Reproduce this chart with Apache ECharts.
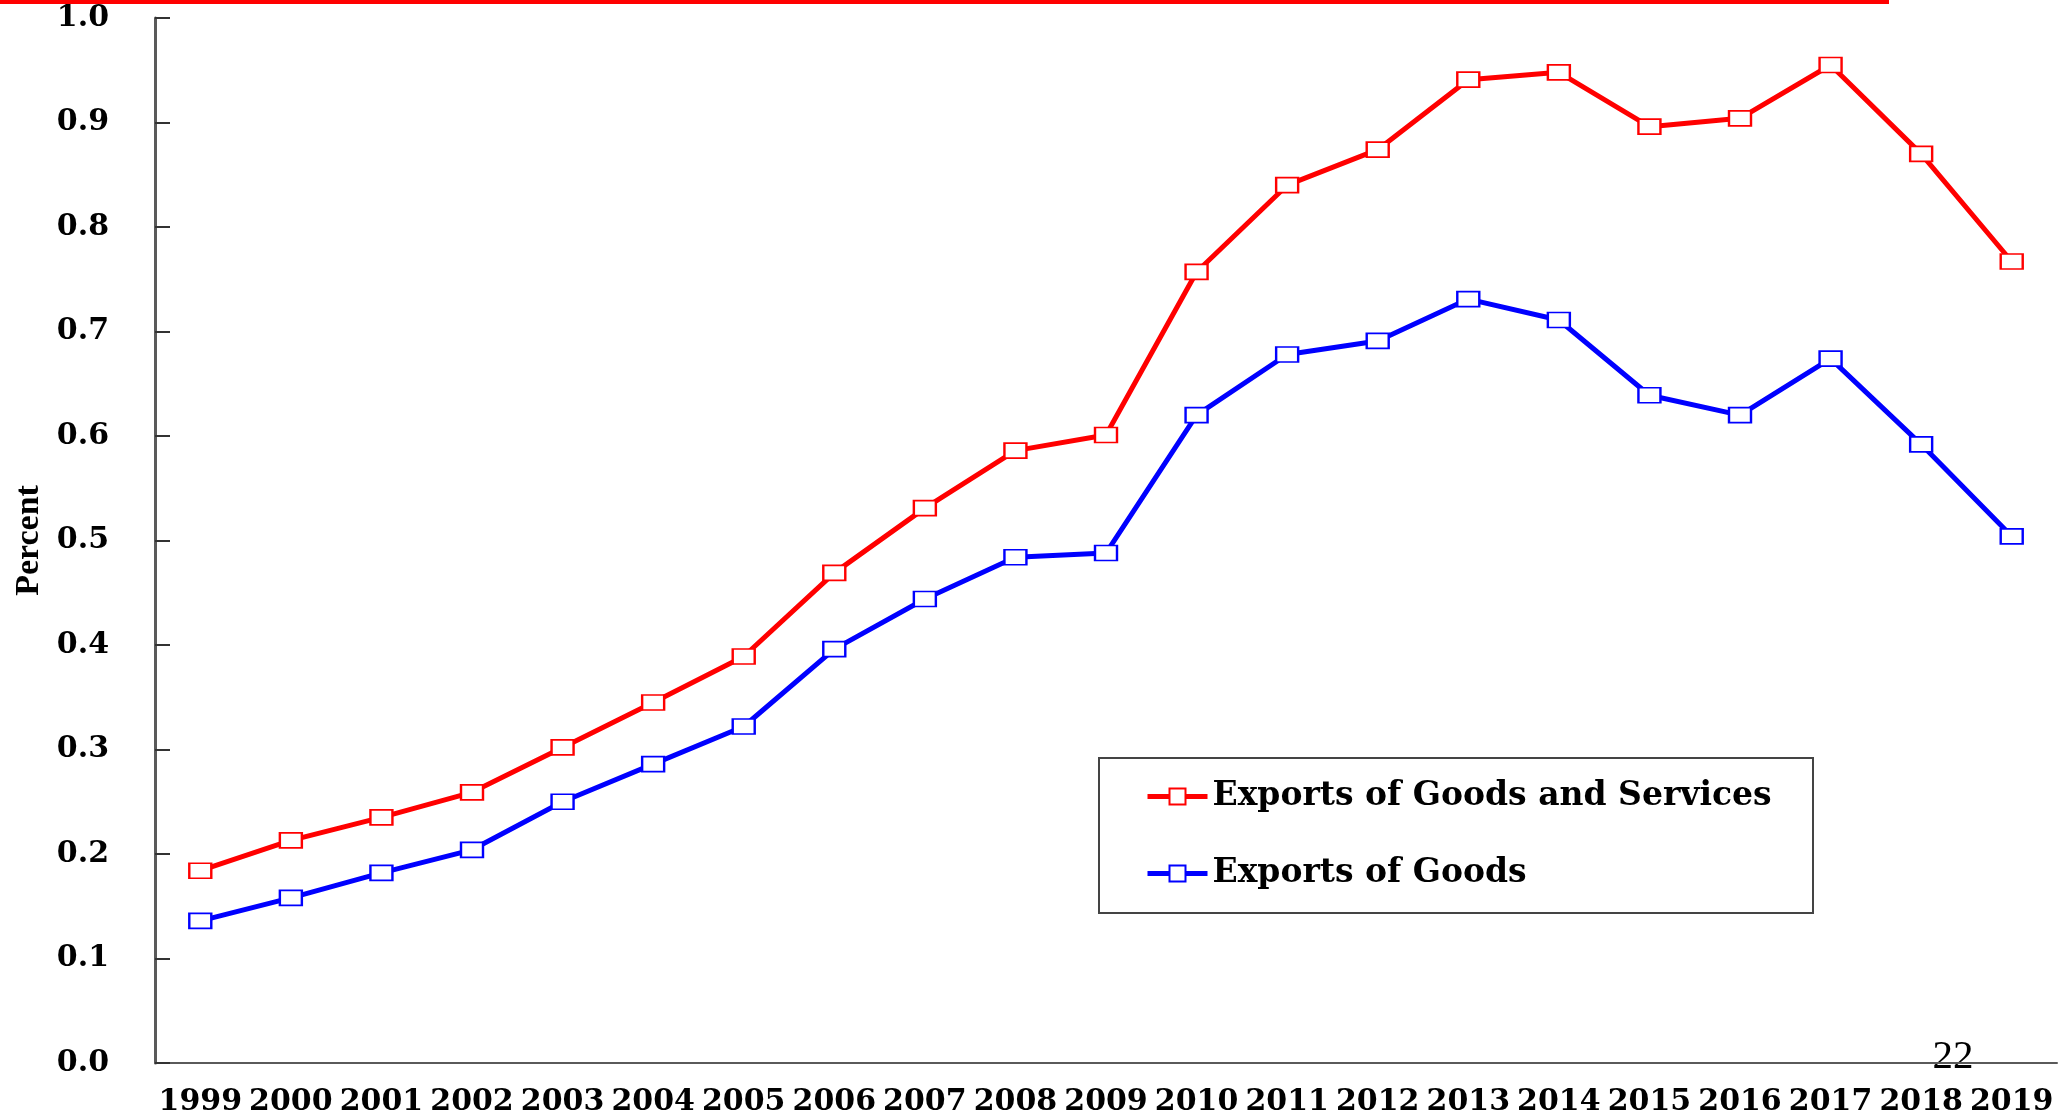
<!DOCTYPE html>
<html>
<head>
<meta charset="utf-8">
<title>Exports</title>
<script src="https://cdn.jsdelivr.net/npm/echarts@6/dist/echarts.min.js"></script>
<style>
  html, body { margin: 0; padding: 0; background: #fff; }
  #main { width: 2059px; height: 1115px; }
</style>
</head>
<body>
<div id="main"></div>
<script>
// 年份
var years = ['1999', '2000', '2001', '2002', '2003', '2004', '2005', '2006', '2007', '2008', '2009',
  '2010', '2011', '2012', '2013', '2014', '2015', '2016', '2017', '2018', '2019']

// Exports of Goods and Services
var goodsServices = [0.184, 0.213, 0.235, 0.259, 0.302, 0.345, 0.389, 0.469, 0.531, 0.586, 0.601,
  0.757, 0.840, 0.874, 0.941, 0.948, 0.896, 0.904, 0.955, 0.870, 0.767]

// Exports of Goods
var goods = [0.136, 0.158, 0.182, 0.204, 0.250, 0.286, 0.322, 0.396, 0.444, 0.484, 0.488,
  0.620, 0.678, 0.691, 0.731, 0.711, 0.639, 0.620, 0.674, 0.592, 0.504]

var yTicks = ['0.0', '0.1', '0.2', '0.3', '0.4', '0.5', '0.6', '0.7', '0.8', '0.9', '1.0']

var boldSerif = 'DejaVu Serif'

var myChart = echarts.init(document.getElementById('main'))

function lineSeries (name, color, data) {
  return {
    name: name,
    type: 'line',
    data: data,
    symbol: 'rect',
    symbolSize: [22, 15],
    showAllSymbol: true,
    lineStyle: { color: color, width: 5 },
    itemStyle: { color: '#fff', borderColor: color, borderWidth: 2 },
    emphasis: { disabled: true }
  }
}

var option = {
  animation: false,
  backgroundColor: '#fff',
  grid: {
    left: 155,
    right: 2,
    top: 18,
    bottom: 52,
    outerBoundsMode: 'none'
  },
  legend: {
    orient: 'vertical',
    left: 1145,
    top: 780,
    padding: 0,
    itemWidth: 60,
    itemHeight: 20,
    itemGap: 44,
    itemTextGap: 6,
    selectedMode: false,
    lineStyle: { width: 5 },
    textStyle: {
      fontFamily: boldSerif,
      fontWeight: 'bold',
      fontSize: 33,
      lineHeight: 33,
      color: '#000'
    },
    data: ['Exports of Goods and Services', 'Exports of Goods']
  },
  xAxis: {
    type: 'category',
    data: years,
    boundaryGap: true,
    axisLine: { lineStyle: { color: '#5a5a5a', width: 2 } },
    axisTick: { inside: true, length: 10, lineStyle: { color: '#333', width: 2 } },
    axisLabel: {
      interval: 0,
      margin: 24,
      fontFamily: boldSerif,
      fontWeight: 'bold',
      fontSize: 30,
      color: '#000'
    }
  },
  yAxis: {
    type: 'value',
    min: 0,
    max: 1,
    interval: 0.1,
    name: 'Percent',
    nameLocation: 'middle',
    nameGap: 108,
    nameTextStyle: {
      fontFamily: 'Liberation Serif',
      fontWeight: 'bold',
      fontSize: 34,
      color: '#000'
    },
    splitLine: { show: false },
    axisLine: { show: true, lineStyle: { color: '#5a5a5a', width: 3 } },
    axisTick: { show: true, inside: true, length: 15, lineStyle: { color: '#333', width: 2 } },
    axisLabel: {
      margin: 46,
      fontFamily: boldSerif,
      fontWeight: 'bold',
      fontSize: 30,
      color: '#000',
      formatter: function (v) {
        return yTicks[Math.round(v * 10)]
      }
    }
  },
  graphic: [
    {
      type: 'rect',
      shape: { x: 0, y: 0, width: 1889, height: 4 },
      style: { fill: '#ff0000' },
      silent: true
    },
    {
      type: 'rect',
      shape: { x: 1099, y: 758, width: 714, height: 155 },
      style: { fill: 'none', stroke: '#444', lineWidth: 2 },
      silent: true
    },
    {
      type: 'text',
      x: 1953,
      y: 1057,
      style: {
        text: '22',
        fontFamily: 'Liberation Serif',
        fontSize: 41,
        fill: '#000',
        align: 'center',
        verticalAlign: 'middle'
      },
      silent: true
    }
  ],
  series: [
    lineSeries('Exports of Goods and Services', '#ff0000', goodsServices),
    lineSeries('Exports of Goods', '#0000ff', goods)
  ]
}

myChart.setOption(option)
</script>
</body>
</html>
